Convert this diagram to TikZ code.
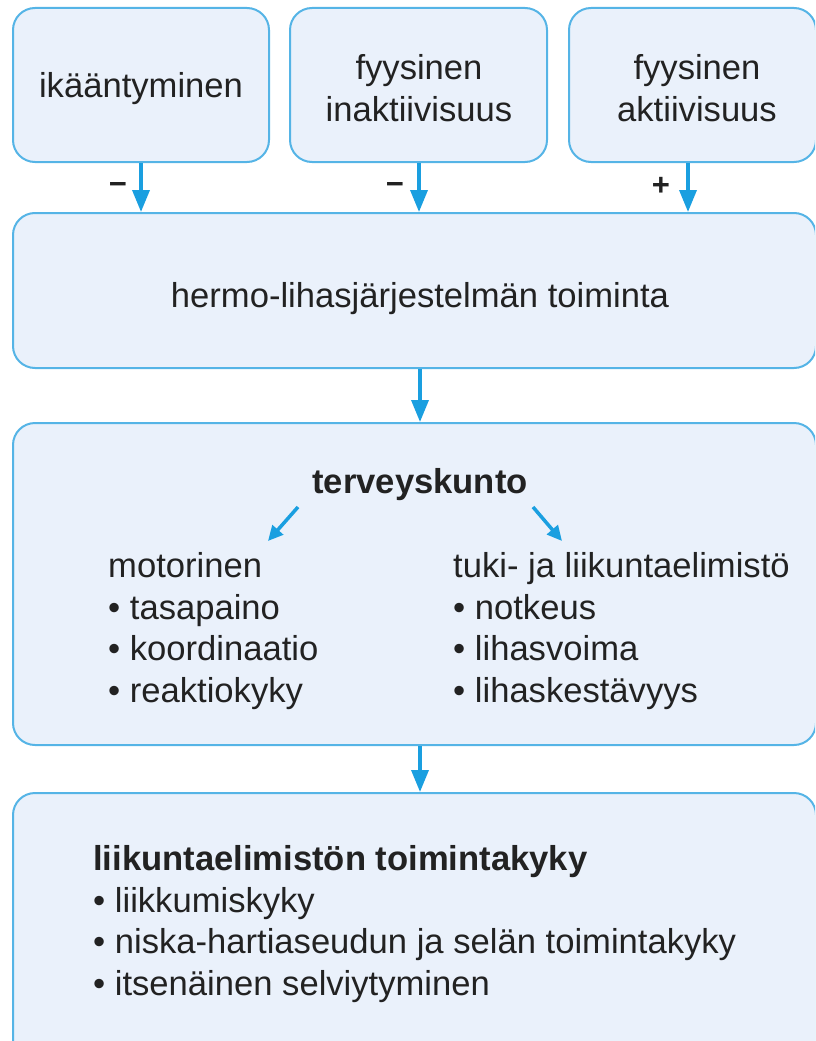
\documentclass[tikz,border=0pt]{standalone}
\usepackage{fontspec}
\setmainfont{Liberation Sans}
\usetikzlibrary{arrows.meta,calc}
\definecolor{boxfill}{HTML}{EAF1FB}
\definecolor{boxline}{HTML}{55B4E6}
\definecolor{arrowblue}{HTML}{1A9FE0}
\definecolor{txt}{HTML}{222222}
\begin{document}
\begin{tikzpicture}[x=1pt,y=-1pt,
  box/.style={draw=boxline, fill=boxfill, line width=2pt, rounded corners=22pt, inner sep=0pt},
  lbl/.style={text=txt, font=\fontsize{34.6}{41.5}\selectfont, inner sep=0pt},
  sign/.style={text=txt, font=\fontsize{31}{33}\selectfont\bfseries, inner sep=0pt},
  arr/.style={draw=arrowblue, line width=3.5pt, -{Triangle[length=22pt,width=17pt]}},
  sarr/.style={draw=arrowblue, line width=3.5pt, -{Triangle[length=15pt,width=14pt]}}]
\useasboundingbox (0,0) rectangle (815,1041);
\clip (0,0) rectangle (815,1041);
% top boxes
\node[box, minimum width=256pt, minimum height=154pt] (b1) at (141,85) {};
\node[lbl] (t1) at (141,89) {ikääntyminen};
\node[box, minimum width=257pt, minimum height=154pt] (b2) at (418.5,85) {};
\node[lbl, align=center] (t2) at (419,88) {fyysinen\\inaktiivisuus};
\node[box, minimum width=247pt, minimum height=154pt] (b3) at (692.5,85) {};
\node[lbl, align=center] (t3) at (697,88) {fyysinen\\aktiivisuus};
% middle box
\node[box, minimum width=803pt, minimum height=155pt] (b4) at (414.5,290.5) {};
\node[lbl] (t4) at (420,299) {hermo-lihasjärjestelmän toiminta};
% terveyskunto box
\node[box, minimum width=803pt, minimum height=322pt] (b5) at (414.5,584) {};
\node[lbl, font=\fontsize{34.6}{41.5}\selectfont\bfseries] (tk) at (420,485) {terveyskunto};
\node[lbl, align=left, anchor=base west] (mot) at (108,702) {motorinen\\• tasapaino\\• koordinaatio\\• reaktiokyky};
\node[lbl, align=left, anchor=base west] (tuk) at (453,702) {tuki- ja liikuntaelimistö\\• notkeus\\• lihasvoima\\• lihaskestävyys};
% bottom box
\node[box, minimum width=803pt, minimum height=272pt] (b6) at (414.5,929) {};
\node[lbl, align=left, anchor=base west] (lk) at (93,995) {\textbf{liikuntaelimistön toimintakyky}\\• liikkumiskyky\\• niska-hartiaseudun ja selän toimintakyky\\• itsenäinen selviytyminen};
% arrows top
\draw[arr] (b1.south) -- (b1.south |- b4.north);
\draw[arr] (t2 |- b2.south) -- (t2 |- b4.north);
\coordinate (a3) at ($(b3.south)+(-4.5,0)$);
\draw[arr] (a3) -- (a3 |- b4.north);
\node[sign] (m1) at (118,188) {−};
\node[sign] (m2) at (395,188) {−};
\node[sign] (p3) at (661,186) {+};
% arrows down
\draw[arr] (t4 |- b4.south) -- (t4 |- b5.north);
\draw[arr] (t4 |- b5.south) -- (t4 |- b6.north);
% small arrows
\coordinate (l0) at (298,507);
\coordinate (l1) at (268,541);
\coordinate (r0) at (533,507);
\coordinate (r1) at (562,541);
\draw[sarr] (l0) -- (l1);
\draw[sarr] (r0) -- (r1);
\end{tikzpicture}
\end{document}
